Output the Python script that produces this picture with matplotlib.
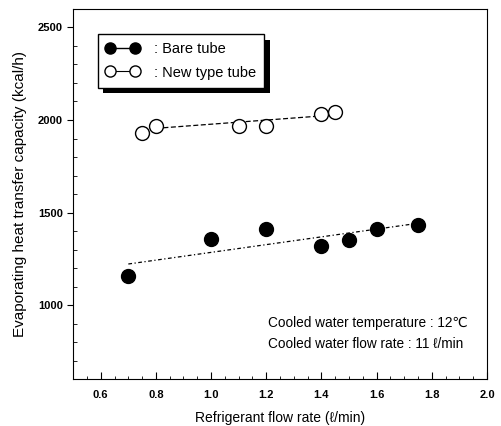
import matplotlib
matplotlib.use('Agg')
import matplotlib.pyplot as plt
from matplotlib.lines import Line2D
from matplotlib.ticker import MultipleLocator
import matplotlib.patheffects as pe

plt.rcParams['font.family'] = ['Liberation Sans', 'DejaVu Sans']

# data
bare_x = [0.70, 1.00, 1.20, 1.40, 1.50, 1.60, 1.75]
bare_y = [1155, 1355, 1410, 1318, 1350, 1410, 1435]
new_x = [0.75, 0.80, 1.10, 1.20, 1.40, 1.45]
new_y = [1930, 1965, 1965, 1965, 2035, 2045]

# trend lines (end points)
bare_fit_x = [0.70, 1.75]
bare_fit_y = [1222, 1442]
new_fit_x = [0.80, 1.40]
new_fit_y = [1955, 2022]

fig = plt.figure(figsize=(5.01, 4.26), dpi=100)
ax = fig.add_axes([0.146, 0.110, 0.826, 0.869])

ax.plot(bare_fit_x, bare_fit_y, color='black', ls=(0, (3, 2, 1, 2)), lw=0.9)
ax.plot(new_fit_x, new_fit_y, color='black', ls=(0, (4, 2)), lw=0.9)
ax.plot(bare_x, bare_y, 'o', color='black', ms=10, ls='none')
ax.plot(new_x, new_y, 'o', mfc='white', mec='black', mew=1.0, ms=10, ls='none')

ax.set_xlim(0.5, 2.0)
ax.set_ylim(600, 2600)
ax.set_xticks([0.6, 0.8, 1.0, 1.2, 1.4, 1.6, 1.8, 2.0])
ax.set_yticks([1000, 1500, 2000, 2500])
ax.xaxis.set_minor_locator(MultipleLocator(0.05))
ax.yaxis.set_minor_locator(MultipleLocator(100))
ax.tick_params(axis='x', which='both', direction='in', top=False)
ax.tick_params(axis='x', which='major', length=5, labelsize=8, pad=8)
ax.tick_params(axis='x', which='minor', length=2)
ax.tick_params(axis='y', which='major', direction='out', length=4, labelsize=8)
ax.tick_params(axis='y', which='minor', direction='in', length=3)
ax.set_xticklabels(['0.6', '0.8', '1.0', '1.2', '1.4', '1.6', '1.8', '2.0'], fontweight='bold')
ax.set_yticklabels(['1000', '1500', '2000', '2500'], fontweight='bold')

ax.set_xlabel('Refrigerant flow rate (\u2113/min)', fontsize=10, labelpad=8)
ax.set_ylabel('Evaporating heat transfer capacity (kcal/h)', fontsize=11, labelpad=8)

ax.text(0.471, 0.14, 'Cooled water temperature : 12\u2103', transform=ax.transAxes, fontsize=9.8)
ax.text(0.471, 0.083, 'Cooled water flow rate : 11 \u2113/min', transform=ax.transAxes, fontsize=9.8)

handles = [
    Line2D([], [], color='black', marker='o', ms=8, lw=1.0),
    Line2D([], [], color='black', marker='o', mfc='white', mec='black', ms=8, lw=0.8),
]
leg = ax.legend(handles, [': Bare tube', ': New type tube'], loc='upper left',
                bbox_to_anchor=(0.042, 0.952), numpoints=2, fancybox=False,
                edgecolor='black', framealpha=1, fontsize=10.5, handlelength=2.3,
                borderpad=0.55, labelspacing=0.65, handletextpad=1.0)
leg.get_frame().set_linewidth(1.0)
leg.get_frame().set_path_effects([
    pe.SimplePatchShadow(offset=(4, -4), shadow_rgbFace='black', alpha=1.0),
    pe.Normal()])

fig.savefig('out.png', dpi=100)
